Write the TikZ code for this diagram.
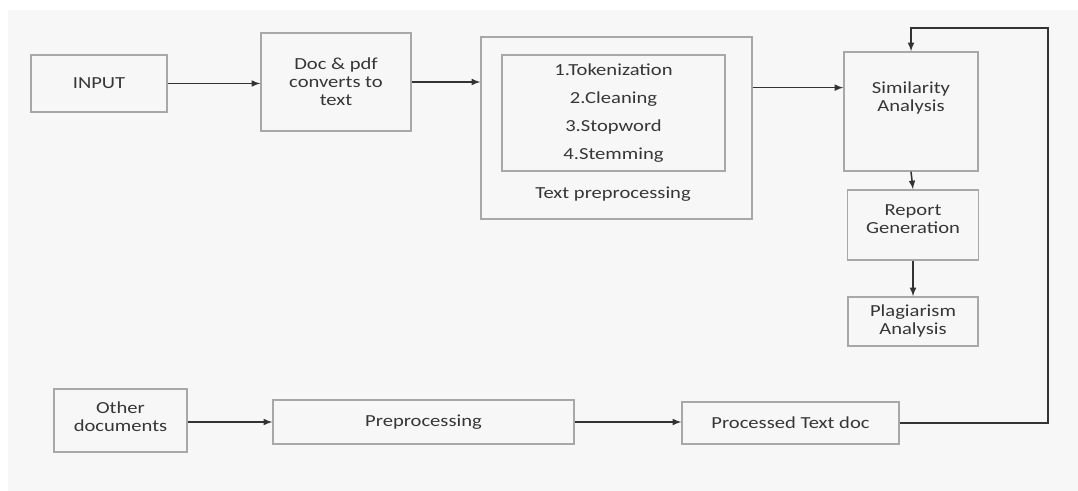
\documentclass[tikz,border=0pt]{standalone}
\usepackage{fontspec}
\setmainfont{Carlito}[FakeStretch=1.22]
\usepackage{xcolor}
\usetikzlibrary{calc}
\tikzset{>=latex}
\definecolor{boxline}{HTML}{A8A8A8}
\definecolor{bgfill}{HTML}{F7F7F7}
\definecolor{txt}{HTML}{363636}
\newdimen\pxu
\pxu=0.025cm
\tikzset{
  stage/.style={draw=boxline, line width=1pt, align=center, inner sep=0pt, text=txt},
  flow/.style={->, line width=1.1pt, draw=black!80}
}

\begin{document}
\begin{tikzpicture}[x=0.025cm, y=-0.025cm, font=\fontsize{12}{12.8}\selectfont]
          \useasboundingbox (0, 0) rectangle (1078, 491);
          \fill[bgfill] (8, 10) rectangle (1078, 491);
          % upper row
          \node[stage, minimum width=136\pxu, minimum height=57\pxu] (input) at (99, 83.5) {INPUT};
          \node[stage, minimum width=150\pxu, minimum height=98\pxu] (docpdf) at (336, 82) {Doc \& pdf\\converts to\\text};
          \node[stage, minimum width=271\pxu, minimum height=182\pxu] (textpre) at (616.5, 128) {};
          \node[stage, minimum width=223\pxu, minimum height=116\pxu, font=\fontsize{12}{19.8}\selectfont] (steps) at (613.5, 113) {1.Tokenization\\2.Cleaning\\3.Stopword\\4.Stemming};
          \node[text=txt] (textprelabel) at (613, 194) {Text preprocessing};
          % right column
          \node[stage, minimum width=134\pxu, minimum height=119\pxu] (simil) at (911, 111.5) {Similarity\\Analysis\\[9pt]\mbox{}};
          \node[stage, minimum width=131\pxu, minimum height=70\pxu] (report) at (913, 225) {Report\\Generation\\[-4.4pt]\mbox{}};
          \node[stage, minimum width=130\pxu, minimum height=49\pxu] (plag) at (913, 321.5) {Plagiarism\\Analysis};
          % lower row
          \node[stage, minimum width=133\pxu, minimum height=63\pxu] (other) at (120.5, 420.5) {Other\\documents\\[-7.2pt]\mbox{}};
          \node[stage, minimum width=301\pxu, minimum height=44\pxu] (prep) at (423.5, 422) {Preprocessing};
          \node[stage, minimum width=217\pxu, minimum height=42\pxu] (proc) at (790.5, 423) {Processed Text doc};
          \coordinate (turn) at (1048, 28);
          % connectors
          \draw[flow] (input.east) -- (input.east -| docpdf.west);
          \draw[flow] (docpdf.east) -- (docpdf.east -| textpre.west);
          \draw[flow] ($(textpre.north east)!0.28!(textpre.south east)$) coordinate (tp) -- (tp -| simil.west);
          \draw[flow] (simil.south) -- (report.north);
          \draw[flow] (report.south) -- (plag.north);
          \draw[flow] (other.east |- prep.west) -- (prep.west);
          \draw[flow] (prep.east) -- (prep.east -| proc.west);
          \draw[flow] (proc.east) -| (turn) -| (simil.north);
        \end{tikzpicture}
\end{document}
